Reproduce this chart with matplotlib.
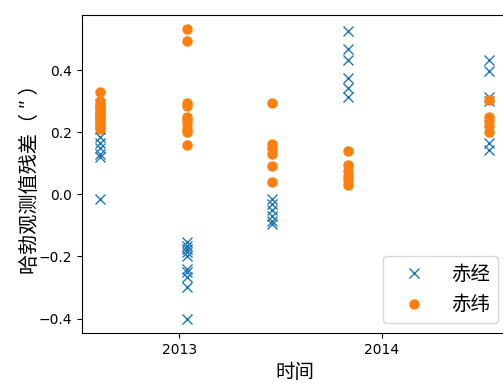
import matplotlib
matplotlib.use("Agg")
import matplotlib.pyplot as plt
import matplotlib.dates as mdates
import datetime as dt

# observation epochs (one per cluster)
epochs = ["2012-08-10", "2013-01-15", "2013-06-17", "2013-11-02", "2014-07-14"]

# RA residuals (赤经)
ra_c1 = [0.29, 0.27, 0.25, 0.23, 0.21, 0.185, 0.165, 0.15, 0.13, 0.12, -0.016]
ra_c2 = [-0.155, -0.165, -0.175, -0.185, -0.20, -0.24, -0.25, -0.265, -0.30, -0.40]
ra_c3 = [-0.015, -0.03, -0.05, -0.07, -0.085, -0.095]
ra_c4 = [0.526, 0.467, 0.434, 0.376, 0.344, 0.314]
ra_c5 = [0.434, 0.398, 0.315, 0.30, 0.165, 0.142]

# Dec residuals (赤纬)
de_c1 = [0.33, 0.30, 0.29, 0.28, 0.27, 0.26, 0.25, 0.24, 0.23, 0.22, 0.21]
de_c2 = [0.531, 0.495, 0.295, 0.284, 0.25, 0.24, 0.225, 0.21, 0.20, 0.158]
de_c3 = [0.295, 0.163, 0.15, 0.129, 0.091, 0.040]
de_c4 = [0.139, 0.094, 0.075, 0.06, 0.045, 0.03]
de_c5 = [0.305, 0.25, 0.235, 0.22, 0.20]

ra_groups = [ra_c1, ra_c2, ra_c3, ra_c4, ra_c5]
de_groups = [de_c1, de_c2, de_c3, de_c4, de_c5]

labels = ["赤经", "赤纬"]
xlabel = "时间"
ylabel = "哈勃观测值残差（ ″ ）"
xlim = ("2012-07-09", "2014-08-17")

cjk = ['Noto Sans CJK SC', 'DejaVu Sans']

def to_date(s):
    return dt.datetime.strptime(s, "%Y-%m-%d")

ra_x, ra_y, de_x, de_y = [], [], [], []
for e, r, d in zip(epochs, ra_groups, de_groups):
    ra_x += [to_date(e)] * len(r)
    ra_y += r
    de_x += [to_date(e)] * len(d)
    de_y += d

fig = plt.figure(figsize=(5.03, 3.83), dpi=100)
ax = fig.add_axes([82/503, 50/383, 426/503, 318/383])

ax.plot(ra_x, ra_y, linestyle='none', marker='x', markersize=6.5,
        color='#1f77b4', label=labels[0])
ax.plot(de_x, de_y, linestyle='none', marker='o', markersize=6.5,
        color='#ff7f0e', label=labels[1])

ax.set_xlim(to_date(xlim[0]), to_date(xlim[1]))
ax.xaxis.set_major_locator(mdates.YearLocator())
ax.xaxis.set_major_formatter(mdates.DateFormatter('%Y'))
ax.set_yticks([-0.4, -0.2, 0.0, 0.2, 0.4])

ax.set_xlabel(xlabel, fontsize=14, family=cjk)
ax.set_ylabel(ylabel, fontsize=14.5, family=cjk, labelpad=-1.5)

ax.legend(loc='lower right', prop={'family': cjk, 'size': 14},
          handlelength=2.3)

fig.savefig("out.png", dpi=100)
